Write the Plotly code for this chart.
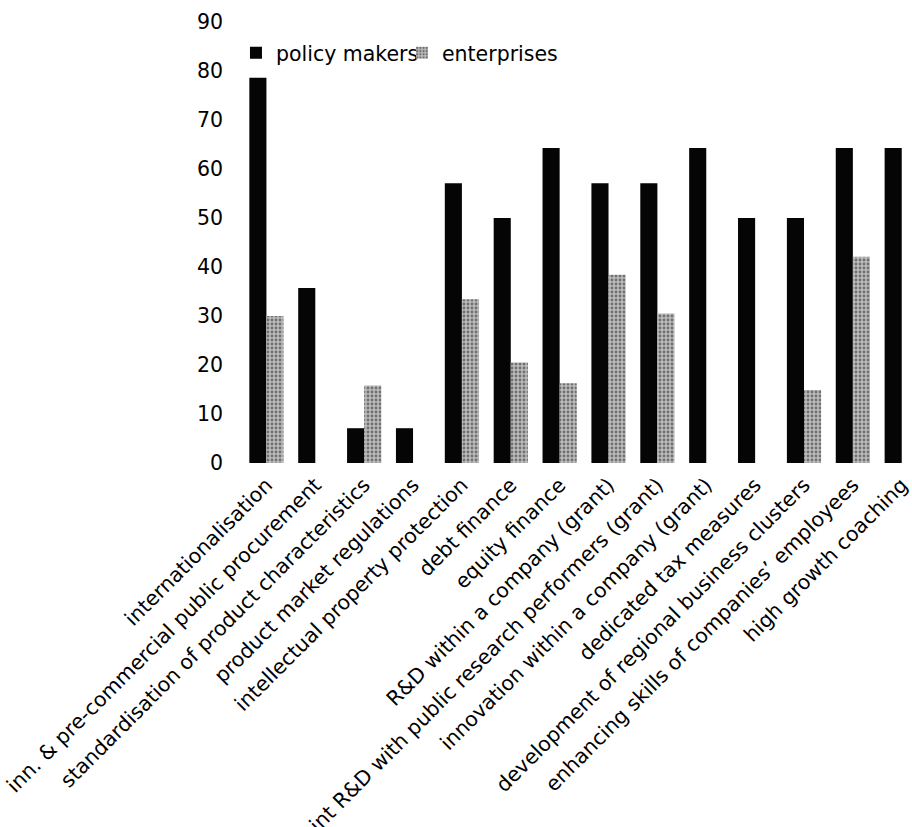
import plotly.graph_objects as go

# Support measures rated as important (%), by respondent group
categories = [
    "internationalisation",
    "inn. & pre-commercial public procurement",
    "standardisation of product characteristics",
    "product market regulations",
    "intellectual property protection",
    "debt finance",
    "equity finance",
    "R&D within a company (grant)",
    "joint R&D with public research performers (grant)",
    "innovation within a company (grant)",
    "dedicated tax measures",
    "development of regional business clusters",
    "enhancing skills of companies\u2019 employees",
    "high growth coaching",
]
policy_makers = [78.6, 35.7, 7.1, 7.1, 57.1, 50.0, 64.3, 57.1, 57.1, 64.3, 50.0, 50.0, 64.3, 64.3]
enterprises = [30.0, 0, 15.8, 0, 33.4, 20.5, 16.3, 38.4, 30.5, 0, 0, 14.9, 42.1, 0]
y_ticks = [0, 10, 20, 30, 40, 50, 60, 70, 80, 90]

FONT = "DejaVu Sans, Verdana, sans-serif"
FS = 20.5
x_idx = list(range(len(categories)))

fig = go.Figure()
fig.add_trace(go.Bar(
    x=x_idx, y=policy_makers, name="policy makers",
    marker=dict(color="#050505", line=dict(width=0)),
))
fig.add_trace(go.Bar(
    x=x_idx, y=enterprises, name="enterprises",
    marker=dict(
        color="#b0b0b0",
        line=dict(width=0),
        pattern=dict(shape=".", fgcolor="#707070", bgcolor="#bcbcbc",
                     size=4, solidity=0.4, fillmode="replace"),
    ),
))

fig.update_layout(
    width=912, height=827,
    margin=dict(l=242, r=0, t=22, b=364, autoexpand=False),
    paper_bgcolor="white", plot_bgcolor="white",
    barmode="group", bargap=0.3, bargroupgap=0,
    font=dict(family=FONT, size=FS, color="#000"),
    showlegend=True,
    legend=dict(
        orientation="h", x=-0.009, y=0.93, xanchor="left", yanchor="middle",
        font=dict(family=FONT, size=FS, color="#000"),
        bgcolor="rgba(0,0,0,0)", itemwidth=30, tracegroupgap=0,
        entrywidth=121, entrywidthmode="pixels",
    ),
)
fig.update_xaxes(
    range=[-0.5, 13.21], tickmode="array", tickvals=x_idx, ticktext=categories,
    tickangle=-45, showgrid=False, zeroline=False, showline=False,
    ticks="", automargin=False, ticklabelstandoff=5,
    ticklabeloverflow="allow",
    tickfont=dict(family=FONT, size=FS, color="#000"),
)
fig.update_yaxes(
    range=[0, 90], tickmode="array", tickvals=y_ticks,
    showgrid=False, zeroline=False, showline=False, ticks="",
    automargin=False, ticklabelstandoff=18,
    tickfont=dict(family=FONT, size=FS, color="#000"),
)

fig.write_html("out.html")
